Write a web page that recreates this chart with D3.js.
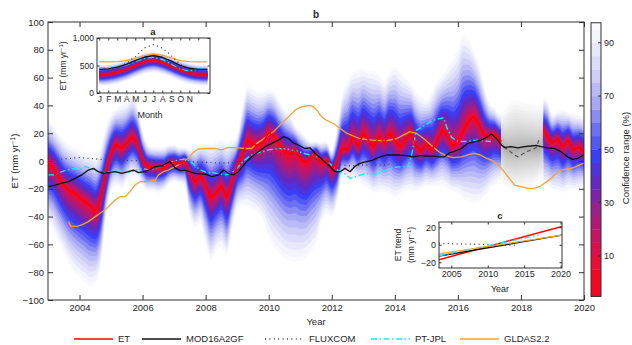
<!DOCTYPE html>
<html>
<head>
<meta charset="utf-8">
<script src="https://cdn.jsdelivr.net/npm/d3@7"></script>
<style>
  body { margin: 0; background: #fff; }
  svg text { font-family: Helvetica, Arial, "Liberation Sans", sans-serif; fill: #262626; }
  .axis path.domain { display: none; }
  .axis line { stroke: #333; }
</style>
</head>
<body>
<svg id="chart" width="632" height="345"></svg>
<script>
// ---- main panel (b): ET ensemble, median + 98% envelope ----
const etYear = [2003.00, 2003.17, 2003.33, 2003.50, 2003.67, 2003.83,
  2004.00, 2004.17, 2004.33, 2004.50, 2004.67, 2004.83,
  2005.00, 2005.17, 2005.33, 2005.50, 2005.67, 2005.83,
  2006.00, 2006.17, 2006.33, 2006.50, 2006.67, 2006.83,
  2007.00, 2007.17, 2007.33, 2007.50, 2007.67, 2007.83,
  2008.00, 2008.17, 2008.33, 2008.50, 2008.67, 2008.83,
  2009.00, 2009.17, 2009.33, 2009.50, 2009.67, 2009.83,
  2010.00, 2010.17, 2010.33, 2010.50, 2010.67, 2010.83,
  2011.00, 2011.17, 2011.33, 2011.50, 2011.67, 2011.83,
  2012.00, 2012.17, 2012.33, 2012.50, 2012.67, 2012.83,
  2013.00, 2013.17, 2013.33, 2013.50, 2013.67, 2013.83,
  2014.00, 2014.17, 2014.33, 2014.50, 2014.67, 2014.83,
  2015.00, 2015.17, 2015.33, 2015.50, 2015.67, 2015.83,
  2016.00, 2016.17, 2016.33, 2016.50, 2016.67, 2016.83,
  2017.00, 2017.17, 2017.33, 2017.38, 2017.50, 2017.67, 2017.83,
  2018.00, 2018.17, 2018.33, 2018.50, 2018.67, 2018.72, 2018.83,
  2019.00, 2019.17, 2019.33, 2019.50, 2019.67, 2019.83, 2020.00];
const etMid = [-2, -5, -11, -17, -21, -23,
  -26, -29, -32, -36, -27, -10,
  5, 12, 9, 13, 17, 13,
  1, -4, -4, -5, -5, -2,
  -1, -2, 0, -8, -15, -11,
  -17, -26, -23, -18, -26, -16,
  -3, 4, 15, 12, 11, 14,
  20, 18, 12, 7, 5, 8,
  2, -1, 3, 5, -1, 1,
  -6, -2, 9, 8, 17, 10,
  20, 15, 10, 18, 13, 20,
  15, 10, 15, 20, 11, 7,
  12, 8, 14, 22, 18, 11,
  13, 22, 28, 32, 26, 19,
  18, 19, 15, 14, 9, 8, 8,
  9, 9, 9, 8, 10, 22, 18,
  13, 16, 10, 15, 8, 10, 6];
const etLo = [-45, -50, -58, -66, -74, -80,
  -84, -87, -90, -88, -76, -42,
  -22, -18, -20, -15, -10, -12,
  -18, -22, -22, -23, -21, -17,
  -15, -16, -18, -40, -48, -45,
  -60, -72, -65, -62, -68, -50,
  -35, -32, -33, -35, -38, -44,
  -55, -62, -66, -70, -72, -73,
  -72, -70, -66, -60, -45, -38,
  -40, -30, -12, -11, -13, -14,
  -18, -20, -23, -22, -22, -24,
  -26, -24, -22, -21, -22, -20,
  -18, -18, -18, -18, -20, -22,
  -23, -27, -29, -31, -30, -26,
  -21, -17, -14, -14, -18, -20, -21,
  -20, -19, -18, -15, -12, -18, -18,
  -21, -22, -23, -21, -21, -20, -18];
const etHi = [30, 25, 20, 15, 12, 10,
  8, 6, 5, 3, 10, 24,
  34, 38, 40, 42, 46, 40,
  22, 12, 10, 10, 10, 12,
  12, 10, 10, 9, 10, 12,
  12, 12, 14, 15, 14, 15,
  18, 40, 54, 52, 50, 50,
  52, 50, 44, 38, 34, 26,
  22, 18, 14, 14, 14, 14,
  8, 25, 48, 58, 64, 66,
  66, 65, 65, 62, 58, 64,
  68, 64, 60, 56, 50, 46,
  44, 50, 58, 62, 68, 74,
  80, 91, 88, 80, 70, 55,
  42, 38, 34, 34, 37, 42, 44,
  43, 42, 41, 40, 40, 46, 44,
  34, 36, 37, 35, 34, 33, 32];
// no ET retrieval in this window: shown in grey
const etGap = [2017.38, 2018.72];
const gapLineYear = [2017.45, 2017.6, 2017.75, 2017.9, 2018.05, 2018.2, 2018.35, 2018.5, 2018.58];
const gapLineVal = [10, 8, 5, 3, 5, 7, 8, 10, 16];

const modYear = [2003.0, 2003.23, 2003.44, 2003.65, 2003.86, 2004.07, 2004.28, 2004.44, 2004.6, 2004.76,
  2004.92, 2005.13, 2005.34, 2005.55, 2005.71, 2005.87, 2006.08, 2006.24, 2006.4, 2006.61,
  2006.76, 2006.87, 2007.03, 2007.2, 2007.35, 2007.67, 2007.99, 2008.2, 2008.41, 2008.57,
  2008.73, 2008.88, 2009.04, 2009.25, 2009.46, 2009.67, 2009.89, 2010.1, 2010.31, 2010.47,
  2010.62, 2010.78, 2010.94, 2011.15, 2011.31, 2011.47, 2011.68, 2011.94, 2012.1, 2012.26,
  2012.42, 2012.58, 2012.73, 2012.89, 2013.1, 2013.31, 2013.53, 2013.74, 2013.95, 2014.16,
  2014.37, 2014.58, 2014.79, 2015.0, 2015.21, 2015.42, 2015.58, 2015.74, 2015.9, 2016.11,
  2016.32, 2016.53, 2016.74, 2016.95, 2017.06, 2017.22, 2017.38, 2017.48, 2017.69, 2017.9,
  2018.11, 2018.32, 2018.48, 2018.64, 2018.85, 2019.06, 2019.27, 2019.48, 2019.64, 2019.8, 2020.0];
const modVal = [-18.5, -17.3, -16, -14.9, -12.5, -10, -6.5, -5.3, -7.7, -8.9,
  -8.4, -7.7, -8.9, -7.7, -6.5, -8.4, -7.7, -6, -4, -3.6,
  -1.7, -0.5, -5, -7, -6.5, -9, -9.4, -11.3, -10, -6.5,
  -9, -10, -7.7, -1.7, 3, 6.7, 10.3, 12.7, 15, 17.5,
  16.3, 13, 11.5, 9, 9.5, 5.5, 1.5, -4, -7.7, -7.7,
  -5.3, -7.7, -4, -1.7, -0.5, 0.7, 3, 4.3, 4.3, 4.3,
  3.8, 3, 3.8, 3.5, 3.5, 3, 3, 6, 7, 9,
  12.7, 14, 15, 17.5, 19.4, 16.3, 11.5, 9.8, 10.3, 9.5,
  10.3, 10.8, 11.3, 10.3, 9.5, 9, 6.7, 3, 1.2, 1.9, 4.5];

const fluxYear = [2003.0, 2003.5, 2004.0, 2004.5, 2005.0, 2005.5, 2006.0, 2006.5, 2007.0, 2007.5, 2008.0, 2008.5,
  2009.0, 2009.5, 2010.0, 2010.5, 2011.0, 2011.5, 2012.0, 2012.5, 2013.0, 2013.5, 2013.9];
const fluxVal = [1, 1.5, 2.5, 1.5, 0.5, 0.5, 0, 0, 0.5, -0.5, -1, -1.5,
  -1, 2, 5, 5.5, 4, 1, -1.5, -3.5, -3, -3, -2.5];

const ptYear = [2003.0, 2003.2, 2003.4, 2003.6, 2003.8, 2004.0, 2004.2, 2004.4, 2004.6, 2004.8,
  2005.0, 2005.2, 2005.4, 2005.6, 2005.8, 2006.0, 2006.2, 2006.4, 2006.6, 2006.8,
  2007.0, 2007.2, 2007.4, 2007.6, 2007.8, 2008.0, 2008.2, 2008.4, 2008.6, 2008.8,
  2009.0, 2009.2, 2009.4, 2009.6, 2009.8, 2010.0, 2010.3, 2010.6, 2010.9, 2011.2,
  2011.5, 2011.8, 2012.0, 2012.2, 2012.4, 2012.6, 2012.8, 2013.0, 2013.2, 2013.4,
  2013.6, 2013.8, 2014.0, 2014.3, 2014.42, 2014.55, 2014.68, 2014.9, 2015.1, 2015.3,
  2015.55, 2015.65, 2015.8, 2016.0, 2016.3, 2016.6, 2016.8, 2017.05];
const ptVal = [-10, -10, -8, -6.5, -5.5, -6, -4, -6, -7.7, -8.4,
  -7.7, -6.5, -7.7, -8.4, -6.5, -5.5, -6.5, -5.3, -4, -2,
  0, 1, 1.5, -2, -6, -8, -8.5, -9, -10, -9,
  -5, 0, 3.5, 5.5, 6.7, 8, 9, 8.5, 7, 5,
  3.5, 0, -3, -7, -9, -12.5, -11, -9.4, -9, -9.4,
  -7.7, -6, -4.5, -4, -4, 6, 22, 25, 28, 30,
  31, 24, 17, 14, 14, 15, 14.5, 14];

const gldasYear = [2003.65, 2003.72, 2003.92, 2004.07, 2004.28, 2004.5, 2004.65, 2004.81, 2004.97, 2005.13,
  2005.29, 2005.45, 2005.6, 2005.76, 2005.92, 2006.18, 2006.4, 2006.5, 2006.66, 2006.82,
  2006.98, 2007.13, 2007.29, 2007.45, 2007.6, 2007.75, 2008.0, 2008.3, 2008.5, 2008.73,
  2009.0, 2009.25, 2009.46, 2009.62, 2009.78, 2009.99, 2010.15, 2010.31, 2010.52, 2010.68,
  2010.84, 2011.0, 2011.15, 2011.3, 2011.42, 2011.52, 2011.68, 2011.85, 2012.05, 2012.26,
  2012.47, 2012.68, 2012.9, 2013.3, 2013.7, 2014.05, 2014.3, 2014.47, 2014.68, 2014.9,
  2015.21, 2015.4, 2015.6, 2015.85, 2016.1, 2016.3, 2016.5, 2016.7, 2016.85, 2017.06,
  2017.22, 2017.38, 2017.59, 2017.8, 2018.0, 2018.22, 2018.42, 2018.59, 2018.75, 2018.96,
  2019.12, 2019.27, 2019.43, 2019.59, 2019.75, 2019.91, 2020.0];
const gldasVal = [-43.6, -47, -47, -46, -43.6, -40, -37.6, -35.3, -31.7, -28,
  -25.7, -25.7, -22, -17.3, -14.9, -14.9, -13.7, -10, -7.7, -6.5,
  -4.6, -2.9, -0.5, 2, 6, 8.5, 9, 9, 8, 9.8,
  9.5, 9, 9, 12.7, 15, 18.7, 21, 24.7, 29.5, 33,
  36.7, 38.6, 39.5, 40, 39, 36.7, 31.8, 29, 27, 23.5,
  20, 18, 16, 15, 14.5, 16, 19, 21, 20, 16.3,
  10.3, 6.7, 4, 2.5, 3, 4.3, 5.5, 4.5, 2.6, 0.7,
  -1.7, -5.3, -11.3, -17.3, -18.5, -19.7, -19.7, -18.5, -16, -12.5,
  -9, -6.5, -5.8, -5.3, -4, -2.2, -1.7];

// ---- inset a: mean seasonal cycle ----
const monthNum = [1, 2, 3, 4, 5, 6, 7, 8, 9, 10, 11, 12, 13];
const monthLabels = ['J', 'F', 'M', 'A', 'M', 'J', 'J', 'A', 'S', 'O', 'N'];
const seasMid = [330, 345, 380, 430, 500, 570, 600, 560, 490, 420, 370, 340, 330];
const seasLo = [120, 130, 160, 210, 280, 340, 370, 340, 280, 210, 160, 135, 120];
const seasHi = [520, 530, 560, 610, 670, 730, 760, 720, 660, 600, 550, 525, 520];
const seasMod = [430, 440, 470, 520, 590, 650, 680, 650, 580, 500, 450, 430, 430];
const seasFlux = [390, 400, 450, 540, 660, 820, 880, 820, 680, 520, 430, 400, 390];
const seasPt = [460, 460, 470, 510, 570, 630, 650, 610, 520, 430, 400, 440, 460];
const seasGldas = [565, 565, 570, 590, 630, 680, 705, 690, 640, 590, 570, 565, 565];

// ---- inset c: linear trends ----
const trendYear = [2003.3, 2020.2];
const trendEt = [-17, 21];
const trendMod = [-13, 11];
const trendGldas = [-10.5, 11];
const trendPtYear = [2003.3, 2017.0];
const trendPt = [-12.5, 11];
const trendFluxYear = [2003.3, 2013.9];
const trendFlux = [1.5, -0.5];

const legendNames = ['ET', 'MOD16A2GF', 'FLUXCOM', 'PT-JPL', 'GLDAS2.2'];
const cbTicks = [10, 30, 50, 70, 90];
const levels = [98, 95, 90, 85, 80, 75, 70, 65, 60, 55, 50, 45, 40, 35, 30, 25, 20, 15, 10, 5];

const styles = {
  'ET': { stroke: '#ff0000', width: 1.5, dash: null },
  'MOD16A2GF': { stroke: '#111', width: 1.3, dash: null },
  'FLUXCOM': { stroke: '#444', width: 1.3, dash: '1,3.4' },
  'PT-JPL': { stroke: '#22e4f2', width: 1.4, dash: '6,2.5,1.5,2.5' },
  'GLDAS2.2': { stroke: '#efa534', width: 1.3, dash: null }
};

const fanColor = d3.scaleLinear()
  .domain([0, 10, 20, 30, 40, 50, 60, 70, 80, 90, 100])
  .range(['#ff0010', '#ea0c36', '#c81460', '#9a1e8c', '#6228c0', '#3a3ef4', '#6e70f4', '#a6a8f4', '#cdcdf8', '#e8e8fb', '#ffffff']);
const grayColor = d3.scaleLinear().domain([0, 50, 100]).range(['#a8a8a8', '#d2d2d2', '#fcfcfc']);

const svg = d3.select('#chart');
const plot = { left: 48, right: 584, top: 22, bottom: 300 };
const x = d3.scaleLinear().domain([2003, 2020]).range([plot.left, plot.right]);
const y = d3.scaleLinear().domain([-100, 100]).range([plot.bottom, plot.top]);

function zipRows(xs, ys) { return xs.map((d, i) => [d, ys[i]]); }

// nested bands, widest first; band width grows faster than linearly with the level
function drawFan(g, rows, colorFn, xs, ys) {
  levels.forEach(p => {
    const k = Math.pow(p / 98, 1.4);
    const area = d3.area()
      .x(r => xs(r.t))
      .y0(r => ys(r.mid - k * (r.mid - r.lo)))
      .y1(r => ys(r.mid + k * (r.hi - r.mid)))
      .curve(d3.curveMonotoneX);
    g.append('path').datum(rows).attr('d', area).attr('fill', colorFn(p));
  });
}

function drawLine(g, pts, name, xs, ys) {
  const s = styles[name];
  g.append('path')
    .datum(pts)
    .attr('fill', 'none')
    .attr('stroke', s.stroke)
    .attr('stroke-width', s.width)
    .attr('stroke-dasharray', s.dash)
    .attr('stroke-linejoin', 'round')
    .attr('d', d3.line().x(d => xs(d[0])).y(d => ys(d[1])));
}

function boxAxes(g, xs, ys, xt, yt, tick, xfmt, yfmt, pad, fs) {
  const b = ys.range()[0], t = ys.range()[1], l = xs.range()[0], r = xs.range()[1];
  g.append('g').attr('class', 'axis').attr('transform', `translate(0,${b})`)
    .call(d3.axisBottom(xs).tickValues(xt).tickSize(-tick).tickSizeOuter(0).tickPadding(pad).tickFormat(xfmt))
    .selectAll('text').style('font-size', fs + 'px');
  g.append('g').attr('class', 'axis').attr('transform', `translate(0,${t})`)
    .call(d3.axisTop(xs).tickValues(xt).tickSize(-tick).tickSizeOuter(0).tickFormat(''));
  g.append('g').attr('class', 'axis').attr('transform', `translate(${l},0)`)
    .call(d3.axisLeft(ys).tickValues(yt).tickSize(-tick).tickSizeOuter(0).tickPadding(pad).tickFormat(yfmt))
    .selectAll('text').style('font-size', fs + 'px');
  g.append('g').attr('class', 'axis').attr('transform', `translate(${r},0)`)
    .call(d3.axisRight(ys).tickValues(yt).tickSize(-tick).tickSizeOuter(0).tickFormat(''));
  g.append('rect').attr('x', l).attr('y', t).attr('width', r - l).attr('height', b - t)
    .attr('fill', 'none').attr('stroke', '#333').attr('stroke-width', 1);
}

function drawMain() {
  svg.append('clipPath').attr('id', 'clipMain').append('rect')
    .attr('x', plot.left).attr('y', plot.top).attr('width', plot.right - plot.left).attr('height', plot.bottom - plot.top);
  const g = svg.append('g').attr('clip-path', 'url(#clipMain)');

  const rows = etYear.map((t, i) => ({ t, mid: etMid[i], lo: etLo[i], hi: etHi[i] }));
  drawFan(g, rows.filter(r => r.t <= etGap[0]), fanColor, x, y);
  drawFan(g, rows.filter(r => r.t >= etGap[0] && r.t <= etGap[1]), grayColor, x, y);
  drawFan(g, rows.filter(r => r.t >= etGap[1]), fanColor, x, y);

  g.append('path').datum(zipRows(gapLineYear, gapLineVal))
    .attr('fill', 'none').attr('stroke', '#555').attr('stroke-width', 1.2).attr('stroke-dasharray', '4,3')
    .attr('d', d3.line().x(d => x(d[0])).y(d => y(d[1])));

  drawLine(g, zipRows(gldasYear, gldasVal), 'GLDAS2.2', x, y);
  drawLine(g, zipRows(fluxYear, fluxVal), 'FLUXCOM', x, y);
  drawLine(g, zipRows(ptYear, ptVal), 'PT-JPL', x, y);
  const et = rows.map(r => [r.t, r.mid]);
  drawLine(g, et.filter(d => d[0] <= etGap[0]), 'ET', x, y);
  drawLine(g, et.filter(d => d[0] >= etGap[1]), 'ET', x, y);
  drawLine(g, zipRows(modYear, modVal), 'MOD16A2GF', x, y);

  boxAxes(svg.append('g'), x, y, d3.range(2004, 2021, 2), d3.range(-100, 101, 20), 5, d3.format('d'), d3.format('d'), 4, 9.5);

  svg.append('text').attr('x', 316).attr('y', 18).attr('text-anchor', 'middle')
    .style('font-size', '10px').style('font-weight', 'bold').text('b');
  svg.append('text').attr('x', 316).attr('y', 325).attr('text-anchor', 'middle')
    .style('font-size', '9.5px').text('Year');
  const yl = svg.append('text').attr('transform', 'translate(18,161) rotate(-90)')
    .attr('text-anchor', 'middle').style('font-size', '9.5px');
  yl.append('tspan').text('ET (mm yr');
  yl.append('tspan').attr('dy', -3.5).style('font-size', '6.5px').text('−1');
  yl.append('tspan').attr('dy', 3.5).text(')');
}

function drawInsetA() {
  const xa = d3.scaleLinear().domain([0.75, 13.3]).range([97, 210]);
  const ya = d3.scaleLinear().domain([0, 1000]).range([93, 38]);
  svg.append('rect').attr('x', 97).attr('y', 38).attr('width', 113).attr('height', 55).attr('fill', '#fff');
  svg.append('clipPath').attr('id', 'clipA').append('rect').attr('x', 97).attr('y', 38).attr('width', 113).attr('height', 55);
  const g = svg.append('g').attr('clip-path', 'url(#clipA)');
  const rows = monthNum.map((t, i) => ({ t, mid: seasMid[i], lo: seasLo[i], hi: seasHi[i] }));
  drawFan(g, rows, fanColor, xa, ya);
  drawLine(g, zipRows(monthNum, seasGldas), 'GLDAS2.2', xa, ya);
  drawLine(g, zipRows(monthNum, seasFlux), 'FLUXCOM', xa, ya);
  drawLine(g, zipRows(monthNum, seasPt), 'PT-JPL', xa, ya);
  drawLine(g, zipRows(monthNum, seasMid), 'ET', xa, ya);
  drawLine(g, zipRows(monthNum, seasMod), 'MOD16A2GF', xa, ya);

  boxAxes(svg.append('g'), xa, ya, d3.range(1, 13), [0, 500, 1000], 2.5,
    d => monthLabels[d - 1] || '', d3.format(','), 3, 8.5);

  svg.append('text').attr('x', 153).attr('y', 35).attr('text-anchor', 'middle')
    .style('font-size', '9.5px').style('font-weight', 'bold').text('a');
  svg.append('text').attr('x', 150).attr('y', 118).attr('text-anchor', 'middle')
    .style('font-size', '9px').text('Month');
  const yl = svg.append('text').attr('transform', 'translate(66,66) rotate(-90)')
    .attr('text-anchor', 'middle').style('font-size', '8.5px');
  yl.append('tspan').text('ET (mm yr');
  yl.append('tspan').attr('dy', -3).style('font-size', '6px').text('−1');
  yl.append('tspan').attr('dy', 3).text(')');
}

function drawInsetC() {
  const xc = d3.scaleLinear().domain([2003.3, 2020.2]).range([439, 562]);
  const yc = d3.scaleLinear().domain([-26.5, 26]).range([268, 222]);
  svg.append('rect').attr('x', 439).attr('y', 222).attr('width', 123).attr('height', 46).attr('fill', '#fff');
  svg.append('clipPath').attr('id', 'clipC').append('rect').attr('x', 439).attr('y', 222).attr('width', 123).attr('height', 46);
  const g = svg.append('g').attr('clip-path', 'url(#clipC)');
  drawLine(g, zipRows(trendFluxYear, trendFlux), 'FLUXCOM', xc, yc);
  drawLine(g, zipRows(trendYear, trendEt), 'ET', xc, yc);
  drawLine(g, zipRows(trendYear, trendMod), 'MOD16A2GF', xc, yc);
  drawLine(g, zipRows(trendPtYear, trendPt), 'PT-JPL', xc, yc);
  drawLine(g, zipRows(trendYear, trendGldas), 'GLDAS2.2', xc, yc);

  boxAxes(svg.append('g'), xc, yc, [2005, 2010, 2015, 2020], [-20, 0, 20], 2.5,
    d3.format('d'), d3.format('d'), 3, 9);

  svg.append('text').attr('x', 500).attr('y', 219).attr('text-anchor', 'middle')
    .style('font-size', '9.5px').style('font-weight', 'bold').text('c');
  svg.append('text').attr('x', 500).attr('y', 292).attr('text-anchor', 'middle')
    .style('font-size', '9px').text('Year');
  svg.append('text').attr('transform', 'translate(401,245) rotate(-90)')
    .attr('text-anchor', 'middle').style('font-size', '8.5px').text('ET trend');
  const yl = svg.append('text').attr('transform', 'translate(414,245) rotate(-90)')
    .attr('text-anchor', 'middle').style('font-size', '8.5px');
  yl.append('tspan').text('(mm yr');
  yl.append('tspan').attr('dy', -3).style('font-size', '6px').text('−1');
  yl.append('tspan').attr('dy', 3).text(')');
}

function drawColorbar() {
  const cb = d3.scaleLinear().domain([0, 100]).range([282.6, 16.1]);
  const asc = levels.slice().reverse();
  const g = svg.append('g');
  asc.forEach((p, i) => {
    const lo = i === 0 ? -5.2 : asc[i - 1];
    const hi = Math.min(p, 97.5);
    g.append('rect').attr('x', 591).attr('width', 10)
      .attr('y', cb(hi)).attr('height', cb(lo) - cb(hi) + 0.3)
      .attr('fill', fanColor(p));
  });
  g.append('rect').attr('x', 591).attr('y', cb(97.5)).attr('width', 10).attr('height', cb(-5.2) - cb(97.5))
    .attr('fill', 'none').attr('stroke', '#333');
  cbTicks.forEach(t => {
    g.append('line').attr('x1', 598).attr('x2', 601).attr('y1', cb(t)).attr('y2', cb(t)).attr('stroke', '#333');
    g.append('text').attr('x', 604).attr('y', cb(t)).attr('dy', '0.35em')
      .style('font-size', '9px').text(t);
  });
  svg.append('text').attr('transform', 'translate(629,158) rotate(-90)')
    .attr('text-anchor', 'middle').style('font-size', '9.5px').text('Confidence range (%)');
}

function drawLegend() {
  const starts = [74, 142, 265, 371, 460];
  const ly = 339;
  legendNames.forEach((name, i) => {
    const s = styles[name];
    svg.append('line').attr('x1', starts[i]).attr('x2', starts[i] + 39).attr('y1', ly).attr('y2', ly)
      .attr('stroke', s.stroke).attr('stroke-width', s.width + 0.2).attr('stroke-dasharray', s.dash);
    svg.append('text').attr('x', starts[i] + 44).attr('y', ly).attr('dy', '0.35em')
      .style('font-size', '9.5px').text(name);
  });
}

drawMain();
drawInsetA();
drawInsetC();
drawColorbar();
drawLegend();
</script>
</body>
</html>
